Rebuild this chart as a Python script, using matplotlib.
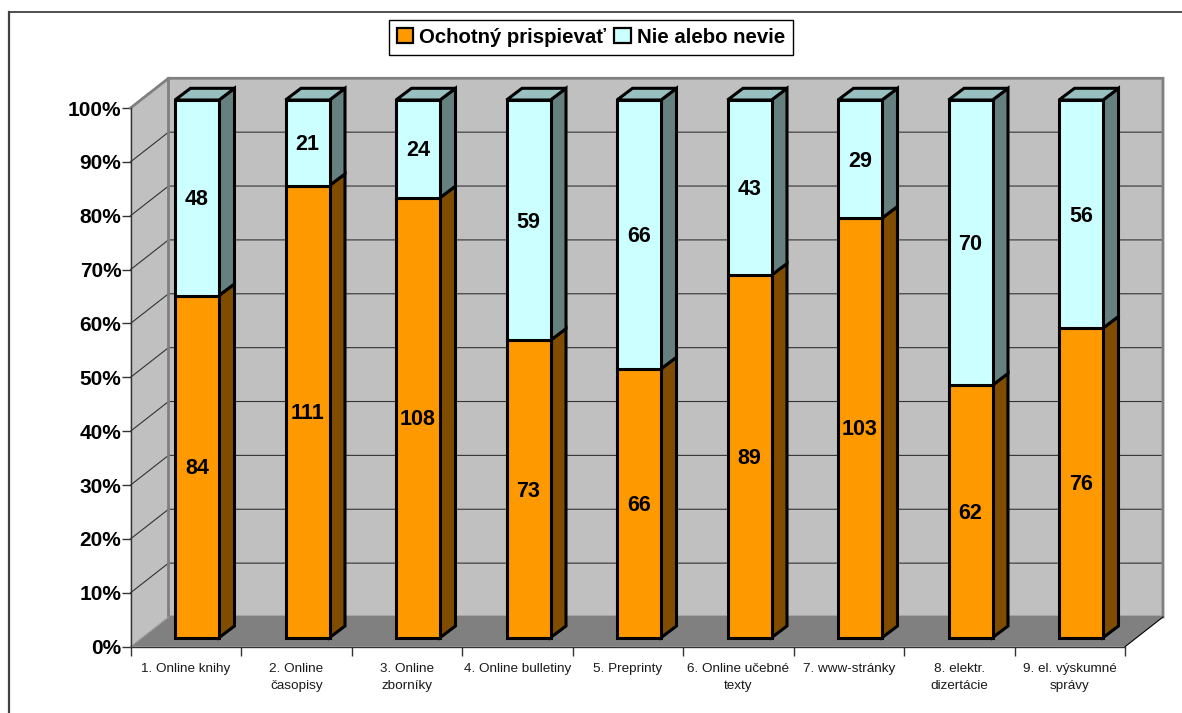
import matplotlib
matplotlib.use("Agg")
import matplotlib.pyplot as plt
from matplotlib.patches import Patch
from matplotlib.lines import Line2D

plt.rcParams['font.family'] = ['Liberation Sans', 'DejaVu Sans']

categories = ["1. Online knihy", "2. Online\nčasopisy", "3. Online\nzborníky",
              "4. Online bulletiny", "5. Preprinty", "6. Online učebné\ntexty",
              "7. www-stránky", "8. elektr.\ndizertácie", "9. el. výskumné\nsprávy"]
willing = [84, 111, 108, 73, 66, 89, 103, 62, 76]
other = [48, 21, 24, 59, 66, 43, 29, 70, 56]
series_names = ["Ochotný prispievať", "Nie alebo nevie"]
ytick_vals = list(range(0, 101, 10))

W, H = 1182, 713
L, R, T, B = 130.5, 1125, 108, 646.7
fig = plt.figure(figsize=(W / 100, H / 100), dpi=100)
ax = fig.add_axes([L / W, 1 - B / H, (R - L) / W, (B - T) / H])
ax.set_xlim(0, 9)
ax.set_ylim(0, 100)
px = 9 / (R - L)
py = 100 / (B - T)
ax.patch.set_alpha(0)

# chart-area frame (left and top edges run on)
fig.add_artist(Line2D([9.5 / W, 9.5 / W], [0, 1 - 12 / H], color="#404040", lw=1.6))
fig.add_artist(Line2D([9.5 / W, 1], [1 - 12 / H, 1 - 12 / H], color="#404040", lw=1.3))

# 3-D box
dx, dy = 38 * px, 29.7 * py
ax.fill([0, dx, dx, 0], [0, dy, 100 + dy, 100], fc="#C0C0C0", ec="none", clip_on=False, zorder=1)
ax.fill([dx, 9 + dx, 9 + dx, dx], [dy, dy, 100 + dy, 100 + dy], fc="#C0C0C0", ec="none", clip_on=False, zorder=1)
ax.fill([0, 9, 9 + dx, dx], [0, 0, dy, dy], fc="#808080", ec="none", clip_on=False, zorder=2)
for v in ytick_vals[1:]:
    ax.plot([0, dx, 9 + dx], [v, v + dy, v + dy], color="#333333", lw=0.8, clip_on=False, zorder=2)
ax.plot([0, dx, 9 + dx, 9 + dx, dx, dx], [100, 100 + dy, 100 + dy, dy, dy, 100 + dy],
        color="#808080", lw=2, clip_on=False, zorder=2, solid_joinstyle="miter")
ax.plot([0, dx], [0, dy], color="#A0A0A0", lw=0.8, clip_on=False, zorder=2)
ax.plot([9, 9 + dx], [0, dy], color="black", lw=0.8, clip_on=False, zorder=3)

# stacked columns with depth
bw = 44 * px
bx0 = 44.5 * px
bdx, bdy = 15.5 * px, 11.7 * py
base = (B - 637.7) * py
scale = (637.7 - 100) * py / 100
EW = 2.2
for i, (a, b) in enumerate(zip(willing, other)):
    tot = a + b
    h1, h2 = a / tot * 100 * scale, b / tot * 100 * scale
    x0 = i + bx0
    x1 = x0 + bw
    y1 = base + h1
    y2 = y1 + h2
    kw = dict(ec="black", lw=EW, clip_on=False, joinstyle="miter")
    ax.fill([x1, x1 + bdx, x1 + bdx, x1], [base, base + bdy, y1 + bdy, y1], fc="#7F4C00", zorder=4, **kw)
    ax.fill([x1, x1 + bdx, x1 + bdx, x1], [y1, y1 + bdy, y2 + bdy, y2], fc="#668080", zorder=4, **kw)
    ax.fill([x0, x0 + bdx, x1 + bdx, x1], [y2, y2 + bdy, y2 + bdy, y2], fc="#99C0C0", zorder=4, **kw)
    ax.bar(x0, h1, bw, bottom=base, align="edge", color="#FF9900", edgecolor="black", lw=EW, clip_on=False, zorder=5)
    ax.bar(x0, h2, bw, bottom=y1, align="edge", color="#CCFFFF", edgecolor="black", lw=EW, clip_on=False, zorder=5)
    cx = (x0 + x1) / 2
    ax.text(cx, base + h1 / 2 - 2 * py, str(a), ha="center", va="center", fontsize=15.5, fontweight="bold", zorder=6)
    ax.text(cx, y1 + h2 / 2 - 2 * py, str(b), ha="center", va="center", fontsize=15.5, fontweight="bold", zorder=6)

# axes
for s in ("top", "right"):
    ax.spines[s].set_visible(False)
for s in ("left", "bottom"):
    ax.spines[s].set_color("#333333")
    ax.spines[s].set_linewidth(1)
    ax.spines[s].set_zorder(3)
ax.set_yticks(ytick_vals)
ax.set_yticklabels([f"{v}%" for v in ytick_vals], fontsize=15, fontweight="bold")
ax.tick_params(axis="y", length=6.5, width=1, color="#333333", pad=0)
ax.set_xticks(range(10))
ax.set_xticklabels([])
ax.tick_params(axis="x", length=6.5, width=1, color="#333333")
for i, c in enumerate(categories):
    ax.annotate(c, (i + 0.5, 0), xytext=(0, -11.5), textcoords="offset points",
                ha="center", va="top", fontsize=9.7, color="#1a1a1a", linespacing=1.6, annotation_clip=False)

# legend
handles = [Patch(fc="#FF9900", ec="black", lw=1.6), Patch(fc="#CCFFFF", ec="black", lw=1.6)]
fig.legend(handles, series_names, loc="upper left", bbox_to_anchor=(389 / W, 1 - 20 / H), ncol=2,
           frameon=True, fancybox=False, edgecolor="black", framealpha=1,
           prop=dict(weight="bold", size=14.7), handlelength=0.8, handleheight=0.8, handletextpad=0.3,
           columnspacing=0.4, borderpad=0.38, borderaxespad=0)

fig.savefig("out.png", dpi=100)
